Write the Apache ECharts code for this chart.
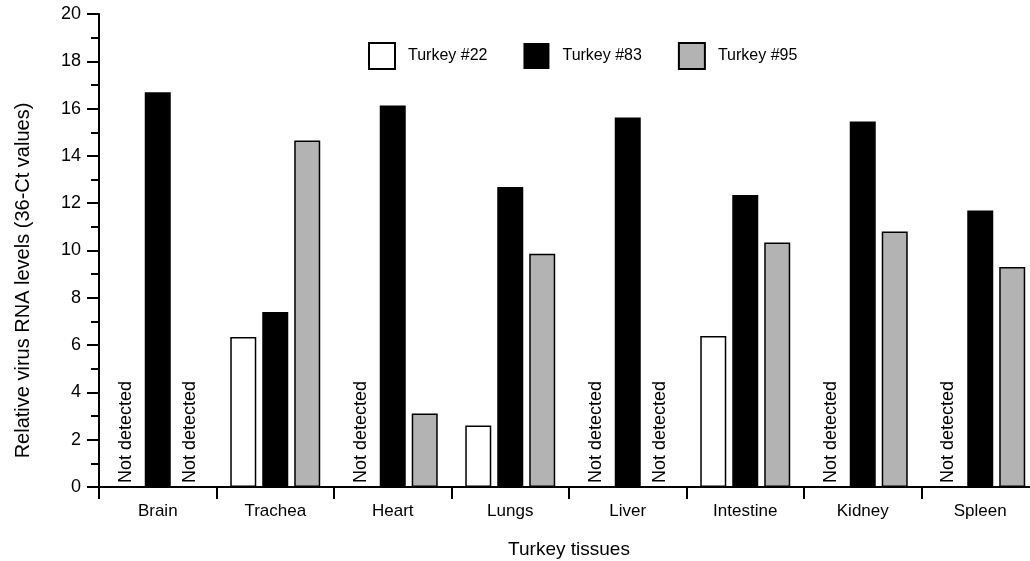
<!DOCTYPE html>
<html lang="en">
<head>
	<meta charset="UTF-8">
	<title>Turkey tissues</title>
	<script src="https://cdn.jsdelivr.net/npm/echarts@6/dist/echarts.min.js"></script>
	<style>
		body { margin: 0; background: #fff; }
	</style>
</head>
<body>
	<div id="main" style="width: 1030px;height:561px;"></div>
	<script type="text/javascript">
	// data (null = not detected)
	var tissues = ['Brain', 'Trachea', 'Heart', 'Lungs', 'Liver', 'Intestine', 'Kidney', 'Spleen'];
	var turkey22 = [null, 6.34, null, 2.6, null, 6.39, null, null];
	var turkey83 = [16.69, 7.4, 16.13, 12.68, 15.62, 12.35, 15.45, 11.69];
	var turkey95 = [null, 14.65, 3.11, 9.86, null, 10.34, 10.8, 9.3];
	var yTicks = [0, 2, 4, 6, 8, 10, 12, 14, 16, 18, 20];

	var font = 'Liberation Sans, Arial, sans-serif';

	// missing values become an empty bar with a vertical "Not detected" label
	function toData(arr) {
		return arr.map(function (v) {
			if (v === null) {
				return {
					value: 0,
					itemStyle: { borderWidth: 0 },
					label: {
						show: true,
						formatter: 'Not detected',
						position: 'insideBottom',
						distance: 4,
						rotate: 90,
						align: 'left',
						verticalAlign: 'middle',
						color: '#000',
						fontSize: 18,
						fontFamily: font
					}
				};
			}
			return v;
		});
	}

	var myChart = echarts.init(document.getElementById('main'));

	var option = {
		backgroundColor: '#fff',
		animation: false,
		legend: {
			left: 363,
			top: 37,
			icon: 'rect',
			itemWidth: 26,
			itemHeight: 26,
			itemGap: 36,
			textStyle: { fontSize: 16, color: '#000', fontFamily: font, padding: [0, 0, 0, 8] },
			data: ['Turkey #22', 'Turkey #83', 'Turkey #95']
		},
		grid: { left: 99, top: 14, right: -9, bottom: 74, outerBoundsMode: 'none' },
		xAxis: {
			type: 'category',
			data: tissues,
			name: 'Turkey tissues',
			nameLocation: 'middle',
			nameGap: 53,
			nameTextStyle: { fontSize: 19, color: '#000', fontFamily: font },
			axisLine: { lineStyle: { color: '#000', width: 2 } },
			axisTick: { show: true, length: 12, lineStyle: { color: '#000', width: 2 } },
			axisLabel: { margin: 16, fontSize: 17, color: '#000', fontFamily: font }
		},
		yAxis: {
			type: 'value',
			min: yTicks[0],
			max: yTicks[yTicks.length - 1],
			interval: 2,
			name: 'Relative virus RNA levels (36-Ct values)',
			nameLocation: 'middle',
			nameGap: 66,
			nameTextStyle: { fontSize: 20, color: '#000', fontFamily: font, padding: [0, 60, 0, 0] },
			splitLine: { show: false },
			axisLine: { show: true, lineStyle: { color: '#000', width: 2 } },
			axisTick: { show: true, length: 12, lineStyle: { color: '#000', width: 2 } },
			minorTick: { show: true, splitNumber: 2, length: 8, lineStyle: { color: '#000', width: 2 } },
			axisLabel: { margin: 18, fontSize: 18, color: '#000', fontFamily: font }
		},
		series: [
			{
				name: 'Turkey #22',
				type: 'bar',
				barWidth: 26,
				barGap: '23%',
				itemStyle: { color: '#fff', borderColor: '#000', borderWidth: 1.5 },
				data: toData(turkey22)
			},
			{
				name: 'Turkey #83',
				type: 'bar',
				barWidth: 26,
				barGap: '23%',
				itemStyle: { color: '#000', borderColor: '#000', borderWidth: 0 },
				data: toData(turkey83)
			},
			{
				name: 'Turkey #95',
				type: 'bar',
				barWidth: 26,
				barGap: '23%',
				itemStyle: { color: '#b3b3b3', borderColor: '#000', borderWidth: 1.5 },
				data: toData(turkey95)
			}
		]
	};

	myChart.setOption(option);
	</script>
</body>
</html>
